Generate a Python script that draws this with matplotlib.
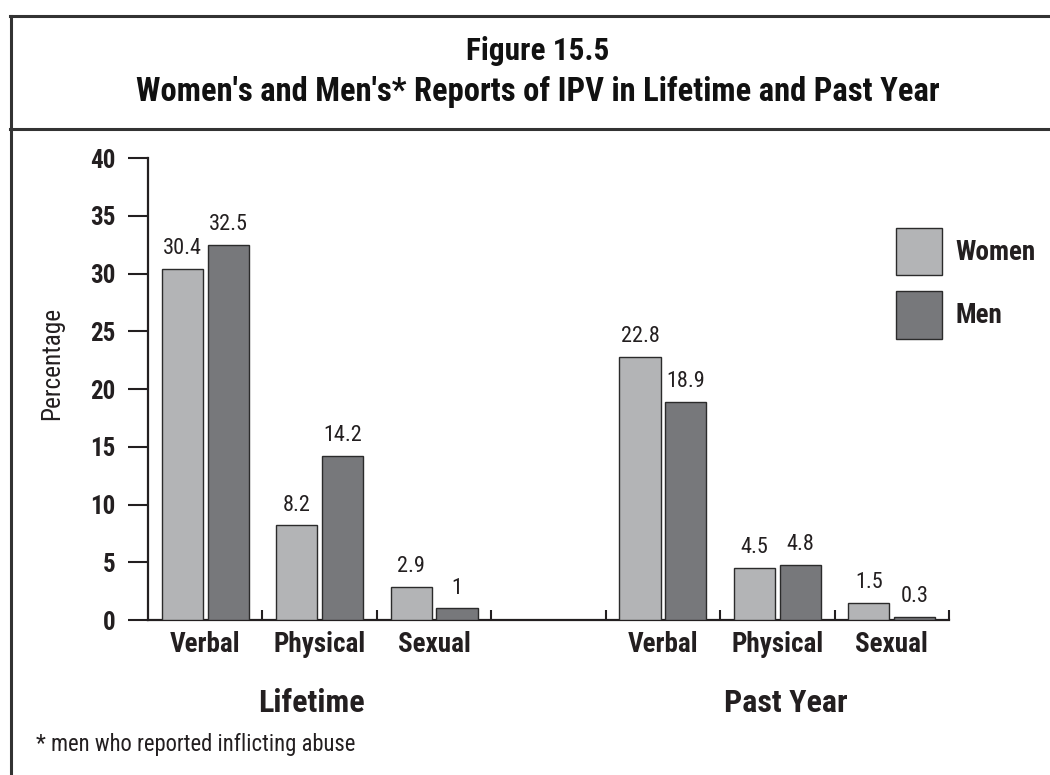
import matplotlib
matplotlib.use("Agg")
import matplotlib.pyplot as plt
from matplotlib.lines import Line2D
from matplotlib.patches import Patch
import matplotlib.transforms as mtransforms
import numpy as np

plt.rcParams['font.family'] = ['Roboto Condensed', 'Liberation Sans', 'DejaVu Sans']

# ---- data ----
groups = ['Lifetime', 'Past Year']
categories = ['Verbal', 'Physical', 'Sexual']
women_lifetime = [30.4, 8.2, 2.9]
men_lifetime = [32.5, 14.2, 1.0]
women_past_year = [22.8, 4.5, 1.5]
men_past_year = [18.9, 4.8, 0.3]
series_names = ['Women', 'Men']
yticks = [0, 5, 10, 15, 20, 25, 30, 35, 40]
footnote = '* men who reported inflicting abuse'
title_lines = ['Figure 15.5', "Women's and Men's* Reports of IPV in Lifetime and Past Year"]

W, H = 1050, 775
TXT = '#231f20'
C_WOMEN = '#b3b4b6'
C_MEN = '#77787b'
EDGE = '#2b2b2b'

fig = plt.figure(figsize=(W / 100, H / 100), dpi=100)
ax = fig.add_axes([148 / W, 1 - 620 / H, 801 / W, 462 / H])

slots = [0, 1, 2, 4, 5, 6]
centers = np.array(slots) + 0.5
women = women_lifetime + women_past_year
men = men_lifetime + men_past_year
off, bw = 0.2, 0.36

bw_bars = ax.bar(centers - off, women, width=bw, color=C_WOMEN, edgecolor=EDGE, linewidth=1.0, zorder=3)
bm_bars = ax.bar(centers + off, men, width=bw, color=C_MEN, edgecolor=EDGE, linewidth=1.0, zorder=3)

for bars, vals in ((bw_bars, women), (bm_bars, men)):
    for b, v in zip(bars, vals):
        ax.annotate(f'{v:g}', (b.get_x() + b.get_width() / 2, v), xytext=(0, 7),
                    textcoords='offset points', ha='center', va='bottom',
                    fontsize=16, color=TXT)

ax.set_xlim(0, 7)
ax.set_ylim(0, 40)
for s in ('top', 'right'):
    ax.spines[s].set_visible(False)
for s in ('left', 'bottom'):
    ax.spines[s].set_linewidth(1.6)
    ax.spines[s].set_color(TXT)

ax.set_yticks(yticks)
ax.set_yticklabels([str(t) for t in yticks], fontsize=18, fontweight='bold', color=TXT)
ax.tick_params(axis='y', direction='out', length=14.4, width=1.5, pad=9, color=TXT)
ax.set_xticks(range(1, 8))
ax.set_xticklabels([])
ax.tick_params(axis='x', direction='in', length=7.5, width=1.5, color=TXT)

cat_tr = ax.get_xaxis_transform() + mtransforms.ScaledTranslation(0, -32 / 100, fig.dpi_scale_trans)
for c, name in zip(centers, categories * 2):
    ax.text(c, 0, name, transform=cat_tr, ha='center', va='baseline',
            fontsize=19.5, fontweight='bold', color=TXT)

grp_tr = ax.get_xaxis_transform() + mtransforms.ScaledTranslation(0, -92 / 100, fig.dpi_scale_trans)
for gx, g in zip([1.425, 5.577], groups):
    ax.text(gx, 0, g, transform=grp_tr, ha='center', va='baseline',
            fontsize=23, fontweight='bold', color=TXT)

fig.text(52 / W, 1 - 363 / H, 'Percentage', rotation=90, ha='center', va='center',
         fontsize=18.2, color=TXT)

handles = [Patch(facecolor=C_WOMEN, edgecolor=EDGE, linewidth=1.0),
           Patch(facecolor=C_MEN, edgecolor=EDGE, linewidth=1.0)]
leg = fig.legend(handles, series_names, loc='upper left', bbox_to_anchor=(896 / W, 1 - 228 / H),
                 frameon=False, handlelength=1.7, handleheight=2.3, labelspacing=0.6,
                 handletextpad=0.5, borderpad=0, borderaxespad=0,
                 prop={'size': 19.5, 'weight': 'bold'})
for t in leg.get_texts():
    t.set_color(TXT)

fig.text(538 / W, 1 - 60 / H, title_lines[0], ha='center', va='baseline', fontsize=22.5,
         fontweight='bold', color='#111111')
fig.text(538 / W, 1 - 101 / H, title_lines[1], ha='center', va='baseline', fontsize=23.5,
         fontweight='bold', color='#111111')

fig.text(36 / W, 1 - 751 / H, footnote, ha='left', va='baseline', fontsize=16.3, color=TXT)

FR = '#333333'
fig.add_artist(Line2D([10 / W, 1], [1 - 16 / H, 1 - 16 / H], color=FR, lw=2.2, transform=fig.transFigure))
fig.add_artist(Line2D([10 / W, 1], [1 - 129 / H, 1 - 129 / H], color=FR, lw=2.2, transform=fig.transFigure))
fig.add_artist(Line2D([11 / W, 11 / W], [0, 1 - 16 / H], color=FR, lw=2.2, transform=fig.transFigure))

fig.savefig('out.png', dpi=100, facecolor='white')
